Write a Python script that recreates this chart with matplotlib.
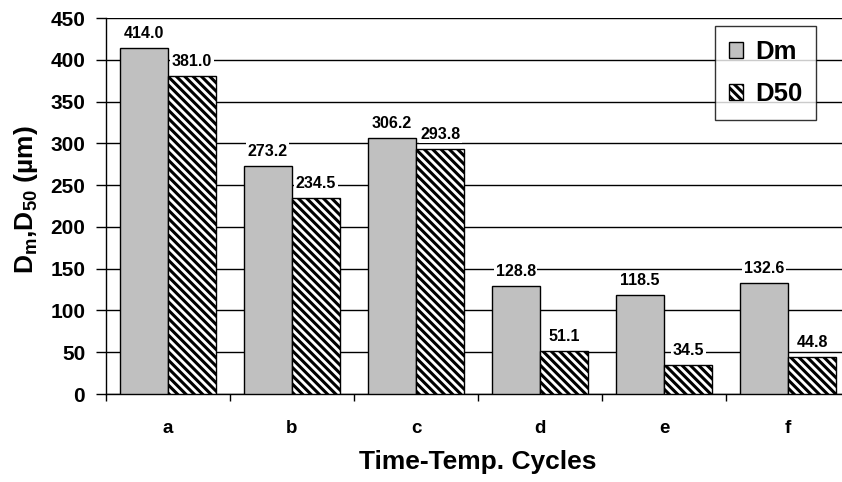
"""
Dm and D50 particle size per time-temperature cycle (grouped bar chart).
"""

import numpy as np
import matplotlib
matplotlib.use("Agg")
import matplotlib.pyplot as plt

cycles = ["a", "b", "c", "d", "e", "f"]
dm_values = [414.0, 273.2, 306.2, 128.8, 118.5, 132.6]
d50_values = [381.0, 234.5, 293.8, 51.1, 34.5, 44.8]
y_ticks = [0, 50, 100, 150, 200, 250, 300, 350, 400, 450]

plt.rcParams["font.family"] = ["Liberation Sans", "DejaVu Sans"]
plt.rcParams["font.weight"] = "bold"
plt.rcParams["mathtext.fontset"] = "custom"
plt.rcParams["mathtext.rm"] = "Liberation Sans:bold"
plt.rcParams["mathtext.bf"] = "Liberation Sans:bold"
plt.rcParams["mathtext.it"] = "Liberation Sans:bold"
plt.rcParams["hatch.linewidth"] = 2.2
plt.rcParams["hatch.color"] = "black"

fig = plt.figure(figsize=(8.42, 4.82), dpi=100)
ax = fig.add_axes([106 / 842, 1 - 394 / 482, 744 / 842, 376 / 482])

x = np.arange(len(cycles))
w = 0.39
bars_dm = ax.bar(x - w / 2, dm_values, w, color="#c0c0c0", edgecolor="black",
                 linewidth=1, label="Dm", zorder=3)
bars_d50 = ax.bar(x + w / 2, d50_values, w, color="white", edgecolor="black",
                  linewidth=1, hatch="\\\\\\\\", label="D50", zorder=3)

for bars in (bars_dm, bars_d50):
    for b in bars:
        ax.annotate(f"{b.get_height():.1f}", (b.get_x() + b.get_width() / 2, b.get_height()),
                    xytext=(0, 5), textcoords="offset points", ha="center", va="bottom",
                    fontsize=11.5, fontweight="bold", zorder=4,
                    bbox=dict(boxstyle="square,pad=0.1", fc="white", ec="none"))

ax.set_xlim(-0.5, len(cycles) - 0.5)
ax.set_ylim(0, 450)
ax.set_yticks(y_ticks)
ax.yaxis.grid(True, color="black", linewidth=1)
ax.set_axisbelow(True)

ax.set_xticks(x)
ax.set_xticklabels(cycles, fontsize=13.5, fontweight="bold")
ax.tick_params(axis="x", which="major", length=0, pad=19)
ax.set_xticks(np.arange(len(cycles) + 1) - 0.5, minor=True)
ax.tick_params(axis="x", which="minor", length=5, direction="out", width=1)
ax.tick_params(axis="y", length=7, width=1, labelsize=15, pad=8)
for lab in ax.get_yticklabels():
    lab.set_fontweight("bold")

for side in ("top", "right"):
    ax.spines[side].set_visible(False)
ax.spines["left"].set_linewidth(1)
ax.spines["bottom"].set_linewidth(1)

ax.set_xlabel("Time-Temp. Cycles", fontsize=19, fontweight="bold")
ax.xaxis.set_label_coords((478 - 106) / 744, -(462 - 394) / 376)
ax.xaxis.label.set_va("center")
ax.set_ylabel(r"D$_\mathrm{m}$,D$_\mathrm{50}$ (µm)", fontsize=19, fontweight="bold")
ax.yaxis.set_label_coords((26 - 106) / 744, (394 - 200) / 376)
ax.yaxis.label.set_va("center")

leg = ax.legend(loc="upper left", fontsize=18.5, frameon=True, fancybox=False,
                edgecolor="black", handlelength=0.55, handleheight=0.55, handletextpad=0.45,
                labelspacing=0.7, borderpad=0.55, borderaxespad=0)
leg.set_bbox_to_anchor((715 / 842, 1 - 26 / 482), transform=fig.transFigure)
leg.get_frame().set_linewidth(1)
for t in leg.get_texts():
    t.set_fontweight("bold")

fig.savefig("out.png", dpi=100)
plt.close(fig)
